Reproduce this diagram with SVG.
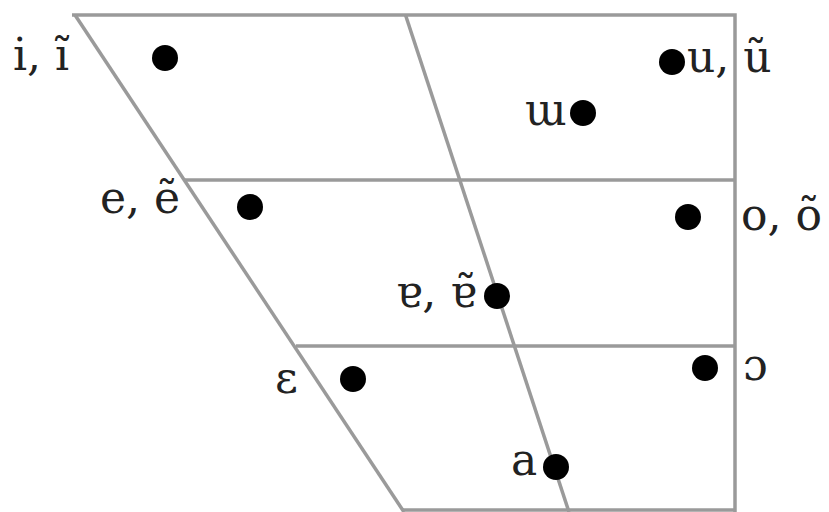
<svg xmlns="http://www.w3.org/2000/svg" width="829" height="512" viewBox="0 0 829 512">
<style>
.ln{stroke:#9a9a9a;stroke-width:3.5;fill:none;stroke-linecap:butt}
.dot{fill:#000}
.lb{font-family:"DejaVu Serif","Liberation Serif",serif;font-size:44px;fill:#222}
</style>
<rect width="829" height="512" fill="#fff"/>
<g id="grid">
<path class="ln" d="M72,15 H735 V512"/>
<path class="ln" d="M75,15 L404,512"/>
<path class="ln" d="M405.5,15 L569,512"/>
<path class="ln" d="M184,180 H735"/>
<path class="ln" d="M296,346 H735"/>
<path class="ln" d="M403,510 H735"/>
</g>
<g id="v-i"><circle class="dot" cx="165" cy="58" r="13"/><text class="lb" x="13" y="70">i, ĩ</text></g>
<g id="v-u"><circle class="dot" cx="672" cy="62" r="13"/><text class="lb" x="687" y="72">u, ũ</text></g>
<g id="v-ɯ"><circle class="dot" cx="583" cy="113" r="13"/><text class="lb" x="525" y="125">ɯ</text></g>
<g id="v-e"><circle class="dot" cx="250" cy="207" r="13"/><text class="lb" x="100" y="213">e, ẽ</text></g>
<g id="v-o"><circle class="dot" cx="688" cy="217" r="13"/><text class="lb" x="741" y="230">o, õ</text></g>
<g id="v-ɐ"><circle class="dot" cx="497" cy="296" r="13"/><text class="lb" x="396" y="307">ɐ, ɐ̃</text></g>
<g id="v-ɛ"><circle class="dot" cx="353" cy="379" r="13"/><text class="lb" x="275" y="393">ɛ</text></g>
<g id="v-ɔ"><circle class="dot" cx="705" cy="368" r="13"/><text class="lb" x="743" y="380">ɔ</text></g>
<g id="v-a"><circle class="dot" cx="556" cy="467" r="13"/><text class="lb" x="511" y="475">a</text></g>
</svg>
